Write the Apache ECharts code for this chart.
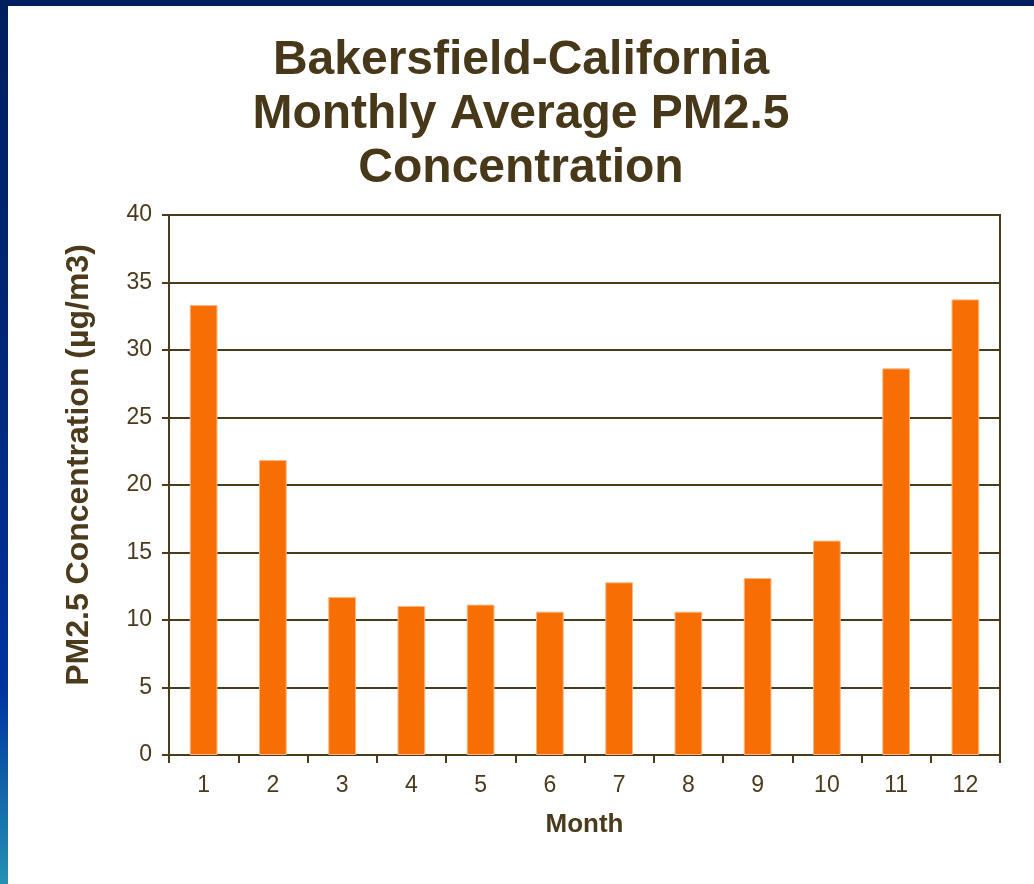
<!DOCTYPE html>
<html>
<head>
<meta charset="utf-8">
<script src="https://cdn.jsdelivr.net/npm/echarts@6/dist/echarts.min.js"></script>
<style>
  html, body { margin: 0; padding: 0; background: #ffffff; }
  #topStrip { position: absolute; left: 0; top: 0; width: 1034px; height: 6px; background: #001f5f; }
  #leftStrip { position: absolute; left: 0; top: 0; width: 8px; height: 884px;
    background: linear-gradient(to bottom, #001f5c 0%, #002878 40%, #0033a0 78%, #2392b2 100%); }
  #chart { position: absolute; left: 8px; top: 6px; width: 1026px; height: 878px; background: #ffffff; }
</style>
</head>
<body>
<div id="topStrip"></div>
<div id="leftStrip"></div>
<div id="chart"></div>
<script>
// monthly averages
var months = ["1", "2", "3", "4", "5", "6", "7", "8", "9", "10", "11", "12"];
var pm25 = [33.33, 21.85, 11.7, 11.04, 11.14, 10.62, 12.79, 10.62, 13.11, 15.88, 28.64, 33.75];
var titleLines = ["Bakersfield-California", "Monthly Average PM2.5", "Concentration"];

var ink = "#4b3a1c";
var font = "Liberation Sans, Arial, sans-serif";

var chart = echarts.init(document.getElementById("chart"));
chart.setOption({
  animation: false,
  title: {
    text: titleLines.join("\n"),
    left: "center",
    top: 23,
    textStyle: {
      color: "#48381a",
      fontFamily: font,
      fontWeight: "bold",
      fontSize: 48,
      lineHeight: 54
    }
  },
  grid: {
    left: 161,
    right: 34,
    top: 209,
    bottom: 129,
    show: true,
    borderColor: ink,
    borderWidth: 2
  },
  xAxis: {
    type: "category",
    data: months,
    name: "Month",
    nameLocation: "middle",
    nameGap: 57,
    nameTextStyle: { color: ink, fontFamily: font, fontWeight: "bold", fontSize: 26 },
    axisLine: { lineStyle: { color: ink, width: 2 } },
    axisTick: { show: true, length: 8, lineStyle: { color: ink, width: 2 } },
    axisLabel: { color: ink, fontFamily: font, fontSize: 23, margin: 19 }
  },
  yAxis: {
    type: "value",
    min: 0,
    max: 40,
    interval: 5,
    name: "PM2.5 Concentration (µg/m3)",
    nameLocation: "middle",
    nameGap: 74,
    nameTextStyle: {
      color: ink, fontFamily: font, fontWeight: "bold", fontSize: 32,
      padding: [0, 0, 0, 40]
    },
    axisLine: { show: true, lineStyle: { color: ink, width: 2 } },
    axisTick: { show: true, length: 7, lineStyle: { color: ink, width: 2 } },
    axisLabel: { color: ink, fontFamily: font, fontSize: 23, margin: 17 },
    splitLine: { lineStyle: { color: ink, width: 2 } }
  },
  series: [
    {
      name: "PM2.5",
      type: "bar",
      data: pm25,
      barWidth: "40%",
      itemStyle: { color: "#f76e02", borderColor: "#fbb784", borderWidth: 1 }
    }
  ]
});
</script>
</body>
</html>
